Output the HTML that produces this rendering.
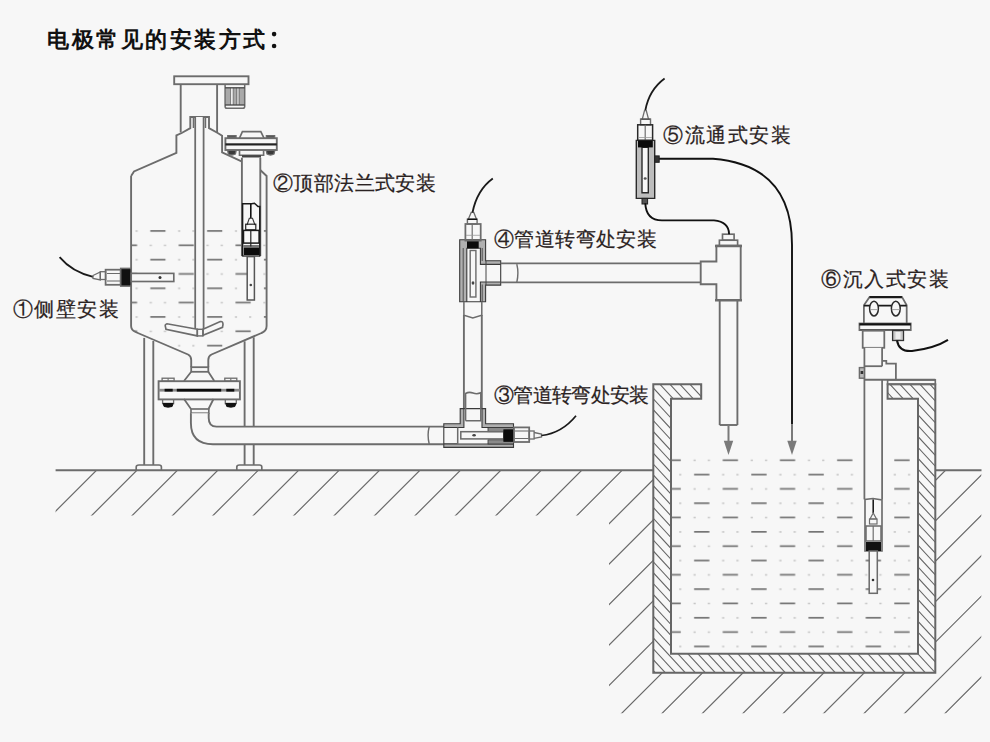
<!DOCTYPE html>
<html><head><meta charset="utf-8"><style>
html,body{margin:0;padding:0;width:990px;height:742px;overflow:hidden;background:#f7f7f7}
svg{position:absolute;left:0;top:0}
.t{position:absolute;font-family:"Liberation Sans",sans-serif;white-space:nowrap;line-height:1.2;-webkit-text-stroke:0.22px currentColor}
</style></head><body>
<svg width="990" height="742" viewBox="0 0 990 742">
<defs><clipPath id="hc"><rect x="55.6" y="470" width="597.6999999999999" height="45.60000000000002"/><rect x="609" y="470" width="44.299999999999955" height="243.20000000000005"/><rect x="609" y="672.8" width="372.29999999999995" height="40.40000000000009"/><rect x="935.2" y="470" width="46.09999999999991" height="243.20000000000005"/></clipPath></defs>
<path d="M166.8 400L-233.2 800M207.2 400L-192.8 800M247.7 400L-152.3 800M288.1 400L-111.9 800M328.5 400L-71.5 800M368.9 400L-31.1 800M409.4 400L9.4 800M449.8 400L49.8 800M490.2 400L90.2 800M530.7 400L130.7 800M571.1 400L171.1 800M611.5 400L211.5 800M652.0 400L252.0 800M692.4 400L292.4 800M732.8 400L332.8 800M773.2 400L373.2 800M813.7 400L413.7 800M854.1 400L454.1 800M894.5 400L494.5 800M935.0 400L535.0 800M975.4 400L575.4 800M1015.8 400L615.8 800M1056.3 400L656.3 800M1096.7 400L696.7 800M1137.1 400L737.1 800M1177.5 400L777.5 800M1218.0 400L818.0 800M1258.4 400L858.4 800M1298.8 400L898.8 800M1339.3 400L939.3 800M1379.7 400L979.7 800M1420.1 400L1020.1 800M1460.6 400L1060.6 800M1501.0 400L1101.0 800M1541.4 400L1141.4 800M1581.8 400L1181.8 800M1622.3 400L1222.3 800M1662.7 400L1262.7 800M1703.1 400L1303.1 800M1743.6 400L1343.6 800" stroke="#6a6a6a" stroke-width="1.2" fill="none" clip-path="url(#hc)"/>
<line x1="55.6" y1="470.2" x2="653.3" y2="470.2" stroke="#6c6c6c" stroke-width="1.89" />
<line x1="935.2" y1="470.2" x2="981.5" y2="470.2" stroke="#6c6c6c" stroke-width="1.89" />
<defs><clipPath id="wc"><path d="M653.3 384.2H701.2V398.7H671.0V653.8H918.0V398.7H887.6V384.2H935.3V672.8H653.3Z"/></clipPath></defs>
<path d="M-162.4 360L150.4 700M-152.4 360L160.4 700M-142.4 360L170.4 700M-132.4 360L180.4 700M-122.4 360L190.4 700M-112.4 360L200.4 700M-102.4 360L210.4 700M-92.4 360L220.4 700M-82.4 360L230.4 700M-72.4 360L240.4 700M-62.4 360L250.4 700M-52.4 360L260.4 700M-42.4 360L270.4 700M-32.4 360L280.4 700M-22.4 360L290.4 700M-12.4 360L300.4 700M-2.4 360L310.4 700M7.6 360L320.4 700M17.6 360L330.4 700M27.6 360L340.4 700M37.6 360L350.4 700M47.6 360L360.4 700M57.6 360L370.4 700M67.6 360L380.4 700M77.6 360L390.4 700M87.6 360L400.4 700M97.6 360L410.4 700M107.6 360L420.4 700M117.6 360L430.4 700M127.6 360L440.4 700M137.6 360L450.4 700M147.6 360L460.4 700M157.6 360L470.4 700M167.6 360L480.4 700M177.6 360L490.4 700M187.6 360L500.4 700M197.6 360L510.4 700M207.6 360L520.4 700M217.6 360L530.4 700M227.6 360L540.4 700M237.6 360L550.4 700M247.6 360L560.4 700M257.6 360L570.4 700M267.6 360L580.4 700M277.6 360L590.4 700M287.6 360L600.4 700M297.6 360L610.4 700M307.6 360L620.4 700M317.6 360L630.4 700M327.6 360L640.4 700M337.6 360L650.4 700M347.6 360L660.4 700M357.6 360L670.4 700M367.6 360L680.4 700M377.6 360L690.4 700M387.6 360L700.4 700M397.6 360L710.4 700M407.6 360L720.4 700M417.6 360L730.4 700M427.6 360L740.4 700M437.6 360L750.4 700M447.6 360L760.4 700M457.6 360L770.4 700M467.6 360L780.4 700M477.6 360L790.4 700M487.6 360L800.4 700M497.6 360L810.4 700M507.6 360L820.4 700M517.6 360L830.4 700M527.6 360L840.4 700M537.6 360L850.4 700M547.6 360L860.4 700M557.6 360L870.4 700M567.6 360L880.4 700M577.6 360L890.4 700M587.6 360L900.4 700M597.6 360L910.4 700M607.6 360L920.4 700M617.6 360L930.4 700M627.6 360L940.4 700M637.6 360L950.4 700M647.6 360L960.4 700M657.6 360L970.4 700M667.6 360L980.4 700M677.6 360L990.4 700M687.6 360L1000.4 700M697.6 360L1010.4 700M707.6 360L1020.4 700M717.6 360L1030.4 700M727.6 360L1040.4 700M737.6 360L1050.4 700M747.6 360L1060.4 700M757.6 360L1070.4 700M767.6 360L1080.4 700M777.6 360L1090.4 700M787.6 360L1100.4 700M797.6 360L1110.4 700M807.6 360L1120.4 700M817.6 360L1130.4 700M827.6 360L1140.4 700M837.6 360L1150.4 700M847.6 360L1160.4 700M857.6 360L1170.4 700M867.6 360L1180.4 700M877.6 360L1190.4 700M887.6 360L1200.4 700M897.6 360L1210.4 700M907.6 360L1220.4 700M917.6 360L1230.4 700M927.6 360L1240.4 700M937.6 360L1250.4 700M947.6 360L1260.4 700M957.6 360L1270.4 700M967.6 360L1280.4 700M977.6 360L1290.4 700M987.6 360L1300.4 700M997.6 360L1310.4 700M1007.6 360L1320.4 700M1017.6 360L1330.4 700M1027.6 360L1340.4 700M1037.6 360L1350.4 700M1047.6 360L1360.4 700M1057.6 360L1370.4 700M1067.6 360L1380.4 700M1077.6 360L1390.4 700M1087.6 360L1400.4 700M1097.6 360L1410.4 700M1107.6 360L1420.4 700M1117.6 360L1430.4 700M1127.6 360L1440.4 700M1137.6 360L1450.4 700M1147.6 360L1460.4 700M1157.6 360L1470.4 700M1167.6 360L1480.4 700M1177.6 360L1490.4 700M1187.6 360L1500.4 700M1197.6 360L1510.4 700M1207.6 360L1520.4 700M1217.6 360L1530.4 700M1227.6 360L1540.4 700M1237.6 360L1550.4 700M1247.6 360L1560.4 700M1257.6 360L1570.4 700M1267.6 360L1580.4 700M1277.6 360L1590.4 700M1287.6 360L1600.4 700M1297.6 360L1610.4 700M1307.6 360L1620.4 700M1317.6 360L1630.4 700M1327.6 360L1640.4 700M1337.6 360L1650.4 700M1347.6 360L1660.4 700M1357.6 360L1670.4 700M1367.6 360L1680.4 700M1377.6 360L1690.4 700M1387.6 360L1700.4 700M1397.6 360L1710.4 700M1407.6 360L1720.4 700M1417.6 360L1730.4 700M1427.6 360L1740.4 700" stroke="#666" stroke-width="1.1" fill="none" clip-path="url(#wc)"/>
<path d="M653.3 384.2H701.2V398.7H671.0V653.8H918.0V398.7H887.6V384.2H935.3V672.8H653.3Z" stroke="#666" stroke-width="2" fill="none" />
<rect x="887.6" y="379.9" width="47.7" height="4.4" stroke="#6c6c6c" stroke-width="1.65" fill="none" />
<defs><pattern id="pw" patternUnits="userSpaceOnUse" x="673.15" y="473.70" width="57.2" height="28.64">
<rect x="20.95" y="0" width="15.30" height="1.7" fill="#747474"/>
<rect x="6.05" y="0.2" width="2.2" height="1.5" fill="#c4c4c4"/>
<rect x="48.95" y="0.2" width="2.2" height="1.5" fill="#c4c4c4"/>
<rect x="49.55" y="14.32" width="7.65" height="1.7" fill="#747474"/>
<rect x="0" y="14.32" width="7.65" height="1.7" fill="#747474"/>
<rect x="20.35" y="14.52" width="2.2" height="1.5" fill="#c4c4c4"/>
<rect x="34.65" y="14.52" width="2.2" height="1.5" fill="#c4c4c4"/>
</pattern><clipPath id="pwc"><path d="M671.8 454H917.2V652.5H671.8Z"/></clipPath></defs>
<rect x="0" y="0" width="990" height="742" fill="url(#pw)" clip-path="url(#pwc)"/>
<defs><pattern id="tw" patternUnits="userSpaceOnUse" x="129.50" y="230.10" width="56.8" height="28.66">
<rect x="20.80" y="0" width="15.20" height="1.7" fill="#747474"/>
<rect x="6.00" y="0.2" width="2.2" height="1.5" fill="#c4c4c4"/>
<rect x="48.60" y="0.2" width="2.2" height="1.5" fill="#c4c4c4"/>
<rect x="49.20" y="14.33" width="7.60" height="1.7" fill="#747474"/>
<rect x="0" y="14.33" width="7.60" height="1.7" fill="#747474"/>
<rect x="20.20" y="14.53" width="2.2" height="1.5" fill="#c4c4c4"/>
<rect x="34.40" y="14.53" width="2.2" height="1.5" fill="#c4c4c4"/>
</pattern><clipPath id="twc"><path d="M132 226H266V327Q266 331 261 333L218 350.5H181L136 332Q132 330 132 327Z"/></clipPath></defs>
<rect x="0" y="0" width="990" height="742" fill="url(#tw)" clip-path="url(#twc)"/>
<path d="M131.1 176V326Q131.1 330 135.5 332L188 354.5Q191.2 356 191.2 360V367.2 M208.3 367.2V360Q208.3 356 211.5 354.5L261.5 333Q266.6 331 266.6 326V176L260.5 170.3 M131.1 176L134 171.5L176.4 152.9V135.4L181.7 133L190.3 128.1V117H209V128.1L217.3 132.8L222.1 135.8V152.4L241.5 161.3" stroke="#6c6c6c" stroke-width="1.89" fill="none" />
<rect x="174.2" y="76.3" width="74.3" height="7.9" stroke="#6c6c6c" stroke-width="1.89" fill="none" />
<line x1="180.7" y1="84.2" x2="180.7" y2="132.5" stroke="#6c6c6c" stroke-width="1.89" />
<line x1="217.1" y1="84.2" x2="217.1" y2="132.5" stroke="#6c6c6c" stroke-width="1.89" />
<rect x="225.6" y="87.8" width="18.6" height="17.2" stroke="none" stroke-width="1.5" fill="#a9a9a9" />
<rect x="231.0" y="87.8" width="1.9" height="17.2" stroke="none" stroke-width="1.5" fill="#f7f7f7" />
<rect x="237.2" y="87.8" width="1.5" height="17.2" stroke="none" stroke-width="1.5" fill="#d4d4d4" />
<line x1="230.6" y1="87.8" x2="230.6" y2="105.0" stroke="#707070" stroke-width="0.8" />
<line x1="233.2" y1="87.8" x2="233.2" y2="105.0" stroke="#707070" stroke-width="0.8" />
<line x1="236.6" y1="87.8" x2="236.6" y2="105.0" stroke="#707070" stroke-width="0.8" />
<line x1="239.3" y1="87.8" x2="239.3" y2="105.0" stroke="#707070" stroke-width="0.8" />
<path d="M225.1 84.5V106.5Q225.1 108.3 227 108.3H242.8Q244.7 108.3 244.7 106.5V84.5" stroke="#6c6c6c" stroke-width="1.53" fill="none" />
<line x1="225.1" y1="87.8" x2="244.7" y2="87.8" stroke="#444" stroke-width="1.3" />
<line x1="225.1" y1="105.0" x2="244.7" y2="105.0" stroke="#444" stroke-width="1.3" />
<rect x="195.2" y="117.0" width="8.4" height="212.0" stroke="none" stroke-width="1.5" fill="#f7f7f7" />
<line x1="195.2" y1="117.0" x2="195.2" y2="329.0" stroke="#6c6c6c" stroke-width="1.77" />
<line x1="203.6" y1="117.0" x2="203.6" y2="329.0" stroke="#6c6c6c" stroke-width="1.77" />
<line x1="193.4" y1="117.0" x2="193.4" y2="128.0" stroke="#6c6c6c" stroke-width="1.42" />
<line x1="205.5" y1="117.0" x2="205.5" y2="128.0" stroke="#6c6c6c" stroke-width="1.42" />
<path d="M197.3 329.3L167 323.8Q164.5 324.5 165.5 327L166 329.3L197.3 335.9Z" stroke="#6c6c6c" stroke-width="1.65" fill="#f7f7f7" />
<path d="M203 329.3L220.3 321.6Q223 321 223 324.5L222.5 327.3L203 335.3Z" stroke="#6c6c6c" stroke-width="1.65" fill="#f7f7f7" />
<rect x="197.3" y="329.3" width="5.7" height="6.6" stroke="#6c6c6c" stroke-width="1.42" fill="none" />
<rect x="191.2" y="367.2" width="17.1" height="4.6" stroke="#6c6c6c" stroke-width="1.77" fill="none" />
<line x1="144.2" y1="337.9" x2="144.2" y2="465.0" stroke="#6c6c6c" stroke-width="1.89" />
<line x1="153.3" y1="341.0" x2="153.3" y2="465.0" stroke="#6c6c6c" stroke-width="1.89" />
<line x1="244.6" y1="341.3" x2="244.6" y2="465.0" stroke="#6c6c6c" stroke-width="1.89" />
<line x1="253.7" y1="337.3" x2="253.7" y2="465.0" stroke="#6c6c6c" stroke-width="1.89" />
<path d="M136.2 470V467Q136.2 465 139 465H159Q161.4 465 161.4 467V470" stroke="#6c6c6c" stroke-width="1.65" fill="none" />
<path d="M236.8 470V467Q236.8 465 239.5 465H259.5Q261.8 465 261.8 467V470" stroke="#6c6c6c" stroke-width="1.65" fill="none" />
<path d="M191.2 371.8L184 381 M208.3 371.8L214.3 381" stroke="#6c6c6c" stroke-width="1.77" fill="none" />
<rect x="158.6" y="381.2" width="81.3" height="18.2" stroke="#6c6c6c" stroke-width="1.89" fill="#f7f7f7" />
<rect x="158.8" y="388.8" width="81.0" height="2.8" stroke="none" stroke-width="1.5" fill="#8a8a8a" />
<rect x="164.6" y="388.8" width="8.1" height="2.8" stroke="none" stroke-width="1.5" fill="#0c0c0c" />
<rect x="176.8" y="388.8" width="44.4" height="2.8" stroke="none" stroke-width="1.5" fill="#0c0c0c" />
<rect x="226.3" y="388.8" width="8.0" height="2.8" stroke="none" stroke-width="1.5" fill="#0c0c0c" />
<rect x="162.1" y="378.2" width="12.0" height="3.0" stroke="#6c6c6c" stroke-width="1.3" fill="none" />
<line x1="168.1" y1="378.2" x2="168.1" y2="381.2" stroke="#6c6c6c" stroke-width="1.06" />
<path d="M162.6 399.6V403.5H173.6V399.6" stroke="#6c6c6c" stroke-width="1.3" fill="none" />
<path d="M163.1 403.5H173.1L172.1 406.5Q168.1 407.8 164.1 406.5Z" stroke="#111" stroke-width="1" fill="#111" />
<rect x="224.8" y="378.2" width="12.0" height="3.0" stroke="#6c6c6c" stroke-width="1.3" fill="none" />
<line x1="230.8" y1="378.2" x2="230.8" y2="381.2" stroke="#6c6c6c" stroke-width="1.06" />
<path d="M225.3 399.6V403.5H236.3V399.6" stroke="#6c6c6c" stroke-width="1.3" fill="none" />
<path d="M225.8 403.5H235.8L234.8 406.5Q230.8 407.8 226.8 406.5Z" stroke="#111" stroke-width="1" fill="#111" />
<path d="M184 399L191 409 M213.5 399L208.5 409" stroke="#6c6c6c" stroke-width="1.77" fill="none" />
<rect x="191.0" y="409.0" width="17.8" height="4.2" stroke="#6c6c6c" stroke-width="1.65" fill="none" />
<path d="M190.9 413.2V423Q190.9 444.2 213 444.2H457.7V426.6H216.5Q208.7 426.6 208.7 418V413.2Z" stroke="none" stroke-width="1.5" fill="#f7f7f7" />
<path d="M190.9 413.2V423Q190.9 444.2 213 444.2H457.7" stroke="#6c6c6c" stroke-width="1.89" fill="none" />
<path d="M208.7 413.2V418Q208.7 426.6 216.5 426.6H457.7" stroke="#6c6c6c" stroke-width="1.89" fill="none" />
<path d="M59.6 257.2Q72 272 93.1 276.9" stroke="#1a1a1a" stroke-width="1.8" fill="none" />
<path d="M93 275.5L100.3 272V280L93 278.5Z" stroke="#6c6c6c" stroke-width="1.3" fill="none" />
<rect x="100.3" y="271.7" width="5.3" height="7.8" stroke="#6c6c6c" stroke-width="1.3" fill="none" />
<rect x="105.6" y="269.7" width="15.1" height="15.1" stroke="#6c6c6c" stroke-width="1.77" fill="none" />
<line x1="107.0" y1="273.5" x2="120.0" y2="273.5" stroke="#6c6c6c" stroke-width="1.06" />
<line x1="107.0" y1="281.0" x2="120.0" y2="281.0" stroke="#6c6c6c" stroke-width="1.06" />
<rect x="120.7" y="268.4" width="10.5" height="17.7" stroke="#6c6c6c" stroke-width="1.53" fill="#111" />
<rect x="131.2" y="273.4" width="42.6" height="8.1" stroke="#6c6c6c" stroke-width="1.65" fill="#f7f7f7" />
<circle cx="160" cy="277.4" r="1.5" fill="#333"/>
<path d="M239.5 138.2L242.4 131.6H260.8L264 138.2" stroke="#6c6c6c" stroke-width="1.65" fill="none" />
<rect x="227.7" y="135.6" width="8.4" height="2.6" stroke="#6c6c6c" stroke-width="1.18" fill="#555" />
<path d="M227.6 150.3H236.20000000000002L235.4 154Q231.9 156 228.4 154Z" stroke="#6c6c6c" stroke-width="1.3" fill="#3a3a3a" />
<rect x="266.3" y="135.6" width="8.4" height="2.6" stroke="#6c6c6c" stroke-width="1.18" fill="#555" />
<path d="M266.2 150.3H274.8L274.0 154Q270.5 156 267.0 154Z" stroke="#6c6c6c" stroke-width="1.3" fill="#3a3a3a" />
<rect x="225.4" y="138.2" width="51.4" height="11.8" stroke="#6c6c6c" stroke-width="1.89" fill="#f7f7f7" />
<rect x="225.4" y="143.3" width="51.4" height="2.2" stroke="none" stroke-width="1.5" fill="#222" />
<path d="M239.5 150V155.2H263.6V150" stroke="#6c6c6c" stroke-width="1.65" fill="none" />
<rect x="242.0" y="155.2" width="19.0" height="2.5" stroke="none" stroke-width="1.5" fill="#444" />
<rect x="241.9" y="157.7" width="18.4" height="99.0" stroke="none" stroke-width="1.5" fill="#f7f7f7" />
<line x1="241.9" y1="157.7" x2="241.9" y2="256.0" stroke="#6c6c6c" stroke-width="1.89" />
<line x1="260.3" y1="157.7" x2="260.3" y2="256.0" stroke="#6c6c6c" stroke-width="1.89" />
<path d="M242.6 256.5V203.8H251.5L254.5 203.2L258 206.5H259.8V256.5" stroke="#1a1a1a" stroke-width="1.5" fill="none" />
<line x1="250.8" y1="204.0" x2="250.8" y2="218.3" stroke="#111" stroke-width="1.6" />
<path d="M247 225L249.3 218.3H252.5L255 225" stroke="#333" stroke-width="1.1" fill="none" />
<rect x="245.7" y="224.2" width="10.1" height="5.6" stroke="#222" stroke-width="1.2" fill="none" />
<rect x="243.5" y="230.4" width="15.6" height="12.7" stroke="#1a1a1a" stroke-width="1.5" fill="none" />
<line x1="250.8" y1="230.4" x2="250.8" y2="246.6" stroke="#222" stroke-width="1.2" />
<line x1="243.5" y1="246.0" x2="259.0" y2="246.0" stroke="#222" stroke-width="1.2" />
<rect x="243.8" y="247.4" width="15.4" height="7.6" stroke="none" stroke-width="1.5" fill="#0c0c0c" />
<line x1="242.6" y1="256.0" x2="259.8" y2="256.0" stroke="#333" stroke-width="1.4" />
<rect x="247.2" y="256.6" width="7.2" height="43.4" stroke="#555" stroke-width="1.5" fill="#f7f7f7" />
<circle cx="250.8" cy="285" r="1.3" fill="#444"/>
<line x1="463.9" y1="315.0" x2="463.9" y2="408.6" stroke="#6c6c6c" stroke-width="1.89" />
<line x1="481.8" y1="315.0" x2="481.8" y2="408.6" stroke="#6c6c6c" stroke-width="1.89" />
<path d="M443.8 423.8H460.2V408.6H485.6V423.8H513.5V447.4H443.8Z M443.8 427.5V444H513.5V427.5H482V408.6H463.9V427.5Z" stroke="#3a3a3a" stroke-width="1.1" fill="#b0b0b0" fill-rule="evenodd"/>
<rect x="488.0" y="427.5" width="25.5" height="4.2" stroke="#333" stroke-width="0.8" fill="#8a8a8a" />
<rect x="488.0" y="439.8" width="25.5" height="4.2" stroke="#333" stroke-width="0.8" fill="#8a8a8a" />
<path d="M465.6 420.8V393.5Q469 391.5 473 393Q477 394.5 480.8 392.8V420.8H465.6" stroke="#6c6c6c" stroke-width="1.53" fill="none" />
<path d="M429.2 426.8Q427 435 429.2 444" stroke="#6c6c6c" stroke-width="1.42" fill="none" />
<line x1="457.7" y1="427.5" x2="457.7" y2="444.0" stroke="#6c6c6c" stroke-width="1.53" />
<rect x="460.8" y="431.7" width="43.0" height="7.2" stroke="#6c6c6c" stroke-width="1.53" fill="none" />
<ellipse cx="474.1" cy="435.3" rx="1.8" ry="1.3" fill="#444"/>
<rect x="503.8" y="429.8" width="9.7" height="11.6" stroke="#111" stroke-width="0.8" fill="#0c0c0c" />
<rect x="514.0" y="427.4" width="15.2" height="14.6" stroke="#6c6c6c" stroke-width="1.77" fill="none" />
<line x1="515.0" y1="431.0" x2="528.5" y2="431.0" stroke="#6c6c6c" stroke-width="1.06" />
<line x1="515.0" y1="438.5" x2="528.5" y2="438.5" stroke="#6c6c6c" stroke-width="1.06" />
<rect x="529.2" y="431.0" width="4.9" height="8.0" stroke="#6c6c6c" stroke-width="1.3" fill="none" />
<path d="M534.1 432.5L541.5 434V437L534.1 438.3" stroke="#6c6c6c" stroke-width="1.3" fill="none" />
<path d="M541.5 435.5Q562 433 576 415.7" stroke="#1a1a1a" stroke-width="1.7" fill="none" />
<path d="M459.7 239.8H485.6V260.8H500.7V285.1H485.6V301.8H459.7Z M466.8 248.3V301.8H480.4V282H500.7V264.4H480.4V248.3Z" stroke="#3a3a3a" stroke-width="1.1" fill="#b0b0b0" fill-rule="evenodd"/>
<rect x="470.2" y="250.5" width="5.7" height="46.5" stroke="#6c6c6c" stroke-width="1.42" fill="none" />
<line x1="463.2" y1="248.0" x2="463.2" y2="301.8" stroke="#444" stroke-width="0.9" />
<line x1="482.2" y1="248.0" x2="482.2" y2="261.0" stroke="#444" stroke-width="0.9" />
<line x1="482.2" y1="284.5" x2="482.2" y2="301.8" stroke="#444" stroke-width="0.9" />
<line x1="486.0" y1="261.0" x2="486.0" y2="285.0" stroke="#444" stroke-width="1" />
<ellipse cx="473" cy="283" rx="1.4" ry="1.8" fill="#444"/>
<path d="M463.9 301.8V315.3L472.8 318L481.8 315.3V301.8" stroke="#6c6c6c" stroke-width="1.53" fill="none" />
<rect x="467.0" y="241.0" width="11.7" height="7.3" stroke="none" stroke-width="1.5" fill="#0c0c0c" />
<rect x="465.4" y="224.0" width="15.3" height="16.6" stroke="#6c6c6c" stroke-width="1.77" fill="none" />
<line x1="472.2" y1="224.0" x2="472.2" y2="240.6" stroke="#6c6c6c" stroke-width="1.18" />
<line x1="466.0" y1="235.3" x2="480.0" y2="235.3" stroke="#999" stroke-width="0.8" />
<rect x="467.4" y="219.2" width="9.7" height="4.8" stroke="#6c6c6c" stroke-width="1.42" fill="none" />
<path d="M468.3 219.2L471.2 212.4H473.8L476.5 219.2" stroke="#6c6c6c" stroke-width="1.3" fill="none" />
<line x1="467.4" y1="219.3" x2="477.1" y2="219.3" stroke="#111" stroke-width="1.4" />
<path d="M472.5 212.5Q477 190 492.8 178.5" stroke="#1a1a1a" stroke-width="1.8" fill="none" />
<path d="M516.8 264.2Q519 273 516.8 282.3" stroke="#6c6c6c" stroke-width="1.42" fill="none" />
<line x1="500.7" y1="263.4" x2="700.7" y2="263.4" stroke="#6c6c6c" stroke-width="1.89" />
<line x1="500.7" y1="282.4" x2="700.7" y2="282.4" stroke="#6c6c6c" stroke-width="1.89" />
<path d="M700.7 261.5H716.4V245.8H740.7V300.1H716.4V284.2H700.7Z" stroke="#6c6c6c" stroke-width="1.89" fill="none" />
<path d="M715 246H742 M715 300.3H742" stroke="#6c6c6c" stroke-width="2.36" fill="none" />
<rect x="719.4" y="240.2" width="18.2" height="5.6" stroke="#6c6c6c" stroke-width="1.65" fill="none" />
<rect x="722.5" y="234.2" width="11.6" height="6.0" stroke="#6c6c6c" stroke-width="1.65" fill="none" />
<line x1="719.7" y1="300.1" x2="719.7" y2="425.0" stroke="#6c6c6c" stroke-width="1.89" />
<line x1="737.4" y1="300.1" x2="737.4" y2="425.0" stroke="#6c6c6c" stroke-width="1.89" />
<line x1="719.7" y1="425.0" x2="737.4" y2="425.0" stroke="#6c6c6c" stroke-width="1.89" />
<line x1="728.5" y1="425.0" x2="728.5" y2="447.0" stroke="#7a7a7a" stroke-width="2" />
<path d="M723.8 440.8H733.2L728.5 455Z" stroke="none" stroke-width="1.5" fill="#7a7a7a" />
<path d="M645.3 110.5Q649 90 664.6 78.5" stroke="#1a1a1a" stroke-width="1.8" fill="none" />
<path d="M642.3 119.1L644.5 110.6H646.3L648.5 119.1" stroke="#6c6c6c" stroke-width="1.3" fill="none" />
<line x1="640.6" y1="119.3" x2="650.5" y2="119.3" stroke="#111" stroke-width="1.4" />
<rect x="640.6" y="119.1" width="9.9" height="5.7" stroke="#6c6c6c" stroke-width="1.42" fill="none" />
<rect x="637.7" y="124.8" width="14.9" height="15.6" stroke="#2a2a2a" stroke-width="1.5" fill="none" />
<line x1="645.2" y1="124.8" x2="645.2" y2="140.4" stroke="#6c6c6c" stroke-width="1.18" />
<line x1="638.5" y1="137.5" x2="652.0" y2="137.5" stroke="#999" stroke-width="0.8" />
<path d="M636.3 140.4H654.7V198.4H636.3Z M642 147.4V192.7H648.3V147.4Z" stroke="#2a2a2a" stroke-width="1.4" fill="#bdbdbd" fill-rule="evenodd"/>
<rect x="638.0" y="140.6" width="14.8" height="6.8" stroke="none" stroke-width="1.5" fill="#0c0c0c" />
<ellipse cx="645.2" cy="178.5" rx="1.5" ry="1.2" fill="#555"/>
<rect x="654.7" y="155.9" width="4.5" height="6.4" stroke="#222" stroke-width="1" fill="#333" />
<rect x="642.0" y="198.4" width="5.6" height="5.6" stroke="#222" stroke-width="1" fill="#555" />
<path d="M659.2 158.7H713Q792 165 792 245V424.6" stroke="#111" stroke-width="1.9" fill="none" />
<line x1="792.0" y1="424.6" x2="792.0" y2="447.0" stroke="#7a7a7a" stroke-width="2" />
<path d="M787.3 440.8H796.7L792 455Z" stroke="none" stroke-width="1.5" fill="#7a7a7a" />
<path d="M645.3 203.3Q646 220.4 662 220.4H714Q729 222 729.1 234.2" stroke="#111" stroke-width="1.9" fill="none" />
<path d="M863.9 323.2V305.3L869.6 296.9H901.9L906.7 305.3V323.2" stroke="#6c6c6c" stroke-width="1.77" fill="none" />
<line x1="869.6" y1="297.1" x2="901.9" y2="297.1" stroke="#1a1a1a" stroke-width="2.2" />
<line x1="863.9" y1="305.7" x2="906.7" y2="305.7" stroke="#1a1a1a" stroke-width="1.8" />
<ellipse cx="874" cy="308.6" rx="4.4" ry="7.3" stroke="#2a2a2a" stroke-width="1.5" fill="#f7f7f7"/><line x1="870" y1="309.6" x2="878" y2="309.6" stroke="#999" stroke-width="0.9"/>
<ellipse cx="895.8" cy="308.6" rx="4.4" ry="7.3" stroke="#2a2a2a" stroke-width="1.5" fill="#f7f7f7"/><line x1="891.8" y1="309.6" x2="899.8" y2="309.6" stroke="#999" stroke-width="0.9"/>
<rect x="859.4" y="323.4" width="51.4" height="6.8" stroke="#6c6c6c" stroke-width="1.65" fill="none" />
<line x1="859.4" y1="324.4" x2="910.8" y2="324.4" stroke="#111" stroke-width="2.2" />
<line x1="860.0" y1="329.6" x2="910.2" y2="329.6" stroke="#555" stroke-width="1.4" />
<rect x="862.7" y="330.7" width="21.6" height="17.1" stroke="#6c6c6c" stroke-width="1.77" fill="none" />
<rect x="892.6" y="330.5" width="10.9" height="10.0" stroke="#333" stroke-width="1.3" fill="#c8c8c8" />
<rect x="895.5" y="332.0" width="5.0" height="7.0" stroke="none" stroke-width="1.5" fill="#eeeeee" />
<path d="M897 340.5Q899 352 912 351Q935 348 948 339.8" stroke="#111" stroke-width="2" fill="none" />
<rect x="864.4" y="347.8" width="17.7" height="151.6" stroke="none" stroke-width="1.5" fill="#f7f7f7" />
<line x1="864.4" y1="347.8" x2="864.4" y2="499.4" stroke="#6c6c6c" stroke-width="1.77" />
<line x1="882.1" y1="347.8" x2="882.1" y2="366.2" stroke="#6c6c6c" stroke-width="1.77" />
<line x1="882.1" y1="379.7" x2="882.1" y2="499.4" stroke="#6c6c6c" stroke-width="1.77" />
<path d="M882.1 360.9H886.3V363.7H895.9V379.6" stroke="#6c6c6c" stroke-width="1.77" fill="none" />
<line x1="864.4" y1="366.2" x2="882.1" y2="366.2" stroke="#6c6c6c" stroke-width="1.77" />
<line x1="864.4" y1="379.7" x2="935.3" y2="379.7" stroke="#6c6c6c" stroke-width="1.89" />
<rect x="859.4" y="367.6" width="5.0" height="10.6" stroke="#6c6c6c" stroke-width="1.42" fill="#bbbbbb" />
<rect x="860.6" y="371.0" width="2.6" height="3.0" stroke="none" stroke-width="1.5" fill="#333" />
<path d="M865 551V499.4L873 498.5L882 500V551Z" stroke="#6c6c6c" stroke-width="1.65" fill="#f7f7f7" />
<line x1="873.2" y1="499.5" x2="873.2" y2="513.0" stroke="#111" stroke-width="1.5" />
<path d="M870 519L873.2 513L876.5 519Z" stroke="#6c6c6c" stroke-width="1.18" fill="none" />
<rect x="869.5" y="519.0" width="7.5" height="5.0" stroke="#6c6c6c" stroke-width="1.18" fill="none" />
<rect x="866.0" y="526.0" width="15.0" height="15.0" stroke="#6c6c6c" stroke-width="1.53" fill="none" />
<line x1="873.2" y1="526.0" x2="873.2" y2="541.0" stroke="#6c6c6c" stroke-width="1.18" />
<rect x="866.0" y="542.0" width="15.0" height="9.0" stroke="none" stroke-width="1.5" fill="#111" />
<rect x="869.2" y="551.0" width="8.1" height="42.3" stroke="#6c6c6c" stroke-width="1.53" fill="#f7f7f7" />
<circle cx="873" cy="580" r="1.3" fill="#333"/>
<circle cx="274.1" cy="34.1" r="2.3" fill="#111"/><circle cx="274.1" cy="46" r="2.3" fill="#111"/>
</svg>
<div class="t" style="left:47px;top:27px;font-size:22.3px;font-weight:bold;color:#111;letter-spacing:2.55px;-webkit-text-stroke:0">电极常见的安装方式</div>
<div class="t" style="left:13px;top:296.5px;font-size:20px;font-weight:500;color:#2a2222;letter-spacing:1.4px">①侧壁安装</div>
<div class="t" style="left:273px;top:171px;font-size:20px;font-weight:500;color:#2a2222;letter-spacing:0.4px">②顶部法兰式安装</div>
<div class="t" style="left:494px;top:382.5px;font-size:20px;font-weight:500;color:#2a2222;letter-spacing:-0.7px">③管道转弯处安装</div>
<div class="t" style="left:494px;top:227px;font-size:20px;font-weight:500;color:#2a2222;letter-spacing:0.4px">④管道转弯处安装</div>
<div class="t" style="left:663px;top:123px;font-size:20px;font-weight:500;color:#2a2222;letter-spacing:1.6px">⑤流通式安装</div>
<div class="t" style="left:821px;top:267px;font-size:20px;font-weight:500;color:#2a2222;letter-spacing:1.5px">⑥沉入式安装</div>
</body></html>
